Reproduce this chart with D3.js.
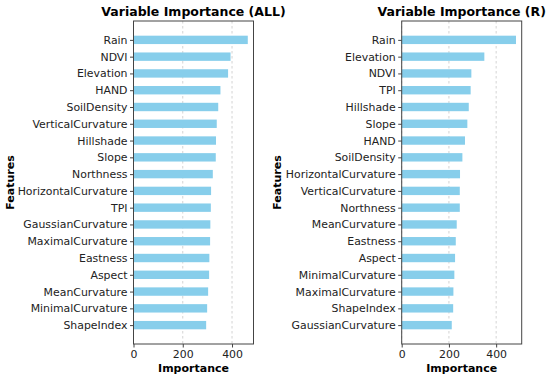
<!DOCTYPE html>
<html>
<head>
<meta charset="utf-8">
<script src="https://cdn.jsdelivr.net/npm/d3@7"></script>
<style>
  body { margin: 0; background: #fff; }
  text { font-family: "DejaVu Sans", sans-serif; }
</style>
</head>
<body>
<svg id="chart" width="550" height="378"></svg>
<script>
// values
const allFeatures = ["Rain","NDVI","Elevation","HAND","SoilDensity","VerticalCurvature","Hillshade","Slope",
  "Northness","HorizontalCurvature","TPI","GaussianCurvature","MaximalCurvature","Eastness","Aspect",
  "MeanCurvature","MinimalCurvature","ShapeIndex"]
const allValues = [464,394,384,353,344,338,335,334,322,315,314,312,311,308,307,303,299,295]

const rFeatures = ["Rain","Elevation","NDVI","TPI","Hillshade","Slope","HAND","SoilDensity",
  "HorizontalCurvature","VerticalCurvature","Northness","MeanCurvature","Eastness","Aspect",
  "MinimalCurvature","MaximalCurvature","ShapeIndex","GaussianCurvature"]
const rValues = [484,350,295,292,284,278,268,257,247,246,246,233,229,226,223,219,218,212]

const xTicks = [0,200,400]

const svg = d3.select("#chart")

const panel = (features, values, title, left, ylabelX) => {
  const top = 21, bottom = 344, width = 120
  const n = features.length
  const xMax = d3.max(values) * 1.05

  const x = d3.scaleLinear().domain([0, xMax]).range([left, left + width])
  // index 0 at the top, like barh with an inverted order
  const y = d3.scaleLinear().domain([-1.125, n - 1 + 1.125]).range([top, bottom])
  const barH = y(0.5) - y(0)

  const g = svg.append("g")

  // dashed grid
  g.selectAll("line.grid").data(xTicks).enter().append("line")
    .attr("class", "grid")
    .attr("x1", d => x(d)).attr("x2", d => x(d))
    .attr("y1", top).attr("y2", bottom)
    .attr("stroke", "#c8c8c8").attr("stroke-width", 0.8)
    .attr("stroke-dasharray", "2.5,2.5")

  g.selectAll("rect").data(values).enter().append("rect")
    .attr("x", x(0))
    .attr("y", (d, i) => y(i) - barH / 2)
    .attr("width", d => x(d) - x(0))
    .attr("height", barH)
    .attr("fill", "#87ceeb")

  // y axis
  const yAxis = d3.axisLeft(y).tickValues(d3.range(n))
    .tickFormat(i => features[i]).tickSizeOuter(0).tickSize(3.5).tickPadding(2.5)
  const yg = g.append("g").attr("transform", `translate(${left},0)`).call(yAxis)
  yg.select(".domain").remove()
  yg.selectAll(".tick line").attr("stroke", "#444")
  yg.selectAll(".tick text").attr("fill", "#222").style("font-size", "10.9px")

  // x axis
  const xAxis = d3.axisBottom(x).tickValues(xTicks).tickSize(3.5).tickPadding(2.5)
  const xg = g.append("g").attr("transform", `translate(0,${bottom})`).call(xAxis)
  xg.select(".domain").remove()
  xg.selectAll(".tick line").attr("stroke", "#444")
  xg.selectAll(".tick text").attr("fill", "#222").style("font-size", "10.9px")

  // frame
  g.append("rect")
    .attr("x", left).attr("y", top).attr("width", width).attr("height", bottom - top)
    .attr("fill", "none").attr("stroke", "#444").attr("stroke-width", 1)

  g.append("text")
    .attr("x", left + width / 2).attr("y", 16)
    .attr("text-anchor", "middle")
    .style("font-size", "12.5px").style("font-weight", "bold")
    .text(title)

  g.append("text")
    .attr("x", left + width / 2).attr("y", 372)
    .attr("text-anchor", "middle")
    .style("font-size", "11px").style("font-weight", "bold")
    .text("Importance")

  g.append("text")
    .attr("transform", `translate(${ylabelX},${(top + bottom) / 2}) rotate(-90)`)
    .attr("text-anchor", "middle")
    .style("font-size", "11px").style("font-weight", "bold")
    .text("Features")
}

panel(allFeatures, allValues, "Variable Importance (ALL)", 133.5, 13.5)
panel(rFeatures, rValues, "Variable Importance (R)", 401.7, 280.5)
</script>
</body>
</html>
